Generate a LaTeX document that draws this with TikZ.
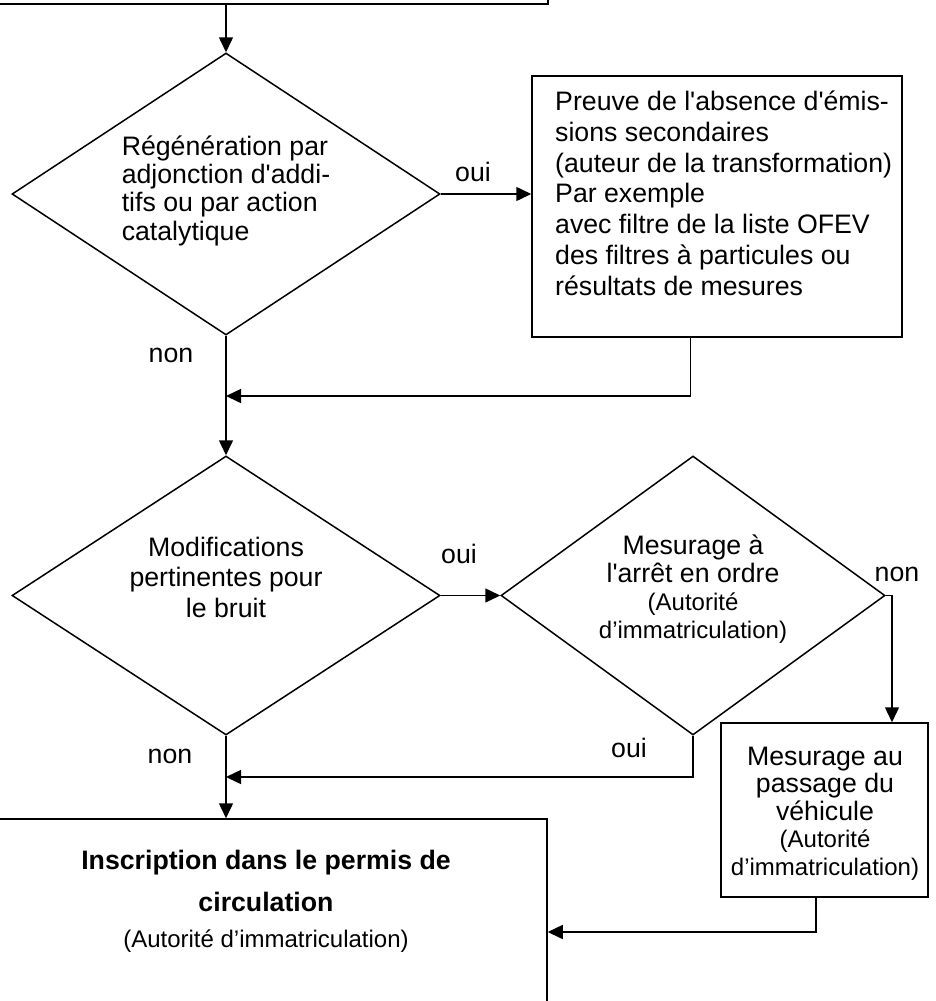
\documentclass[tikz,border=0pt]{standalone}
\usepackage{fontspec}
\setmainfont{Liberation Sans}[Ligatures=TeXOff]
\usetikzlibrary{shapes.geometric,arrows.meta,calc}
\newcommand\smallf{\fontsize{24}{28}\selectfont}
\tikzset{
  ln/.style={line width=1.5pt, draw=black},
  arr/.style={ln, -{Triangle[length=15pt,width=14pt]}},
  boxnode/.style={ln, rectangle, inner sep=0pt},
  dia/.style={ln, diamond, inner sep=0pt},
  txt/.style={inner sep=0pt, anchor=base},
  lbl/.style={inner sep=0pt, font={\fontsize{26.7}{28}\selectfont}},
}
\begin{document}
\begin{tikzpicture}[x=1pt,y=-1pt]
\useasboundingbox (0,0) rectangle (936,1001);
\clip (0,0) rectangle (936,1001);
\fill[white] (0,0) rectangle (936,1001);

% shapes
\node[boxnode, minimum width=568pt, minimum height=54pt] (top) at (264,-23) {};
\node[dia, minimum width=428pt, minimum height=282pt] (d1) at (226,194) {};
\node[boxnode, minimum width=370pt, minimum height=261pt] (box2) at (717,206.5) {};
\node[dia, minimum width=428pt, minimum height=279pt] (d2) at (226,595.5) {};
\node[dia, minimum width=384pt, minimum height=279pt] (d3) at (693,595.5) {};
\node[boxnode, minimum width=207pt, minimum height=174pt] (box4) at (824.5,810) {};
\node[boxnode, minimum width=567pt, minimum height=231pt] (box5) at (263.5,934.5) {};

% texts (anchor = baseline of the last line)
\node[txt, align=left, font={\fontsize{26.7}{28.3}\selectfont}] (t1) at (226,240)
  {Régénération par\\adjonction d'addi-\\tifs ou par action\\catalytique};
\node[txt, anchor=base west, align=left, font={\fontsize{26.7}{30.7}\selectfont}] (t2) at (555,295)
  {Preuve de l'absence d'émis-\\sions secondaires\\(auteur de la transformation)\\Par exemple\\avec filtre de la liste OFEV\\des filtres à particules ou\\résultats de mesures};
\node[txt, align=center, font={\fontsize{26.7}{30.5}\selectfont}] (t3) at (226,617)
  {Modifications\\pertinentes pour\\le bruit};
\node[txt, align=center, font={\fontsize{26.7}{27.7}\selectfont}] (t4) at (693,638)
  {Mesurage à\\l'arrêt en ordre\\{\smallf (Autorité}\\{\smallf d’immatriculation)}};
\node[txt, align=center, font={\fontsize{26.7}{27.5}\selectfont}] (t5) at (825,875)
  {Mesurage au\\passage du\\véhicule\\{\smallf (Autorité}\\{\smallf d’immatriculation)}};
\node[txt, align=center, font={\fontsize{26.7}{36}\selectfont}] (t6) at (266,947)
  {\textbf{Inscription dans le permis de}\\[6pt]\textbf{circulation}\\{\smallf (Autorité d’immatriculation)}};

% labels
\node[lbl] (l1) at (473,172) {oui};
\node[lbl] (l2) at (171,355) {non};
\node[lbl] (l3) at (459,554) {oui};
\node[lbl] (l4) at (897,574) {non};
\node[lbl] (l5) at (629,748) {oui};
\node[lbl] (l6) at (170,756) {non};

% junction coordinates
\coordinate (j1) at (226,396);
\coordinate (j2) at (226,777);
\coordinate (c6) at (892,595.5);
\coordinate (c9) at (816,932);

% connectors
\draw[arr] (top.south -| d1.north) -- (d1.north);
\draw[arr] (d1.east) -- (box2.west |- d1.east);
\draw[arr] (d1.south) -- (d2.north);
\draw[arr] ([xshift=159pt]box2.south west) |- (j1);
\draw[arr] (d2.east) -- (d3.west);
\draw[arr] (d3.east) -- (c6) -- (c6 |- box4.north);
\draw[arr] (d3.south) |- (j2);
\draw[arr] (d2.south) -- (box5.north -| d2.south);
\draw[arr] (c9 |- box4.south) -- (c9) -- (c9 -| box5.east);
\end{tikzpicture}
\end{document}
